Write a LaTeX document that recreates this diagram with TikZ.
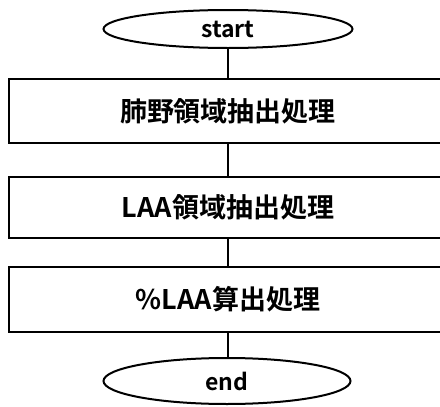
\documentclass[tikz,border=0pt]{standalone}
\usepackage{fontspec}
\newfontfamily\jp{Noto Sans CJK JP}[BoldFont={Noto Sans CJK JP Bold}]
\usetikzlibrary{shapes.geometric}
\begin{document}
\begin{tikzpicture}[x=1pt,y=1pt,
  line width=2pt,
  term/.style={draw,ellipse,inner sep=0pt,minimum width=249pt,font=\jp\bfseries\fontsize{23}{25}\selectfont},
  proc/.style={draw,rectangle,inner sep=0pt,minimum width=438pt,font=\jp\bfseries\fontsize{27}{30}\selectfont}]
\useasboundingbox (0,0) rectangle (440,-407);
\node[term,minimum height=38pt] (s) at (228,-29) {start};
\node[proc,minimum height=64pt] (b1) at (228,-111) {肺野領域抽出処理};
\node[proc,minimum height=61pt] (b2) at (228,-207.5) {LAA領域抽出処理};
\node[proc,minimum height=65pt] (b3) at (228,-299.5) {\%LAA算出処理};
\node[term,minimum width=247pt,minimum height=46pt] (e) at (227,-381) {end};
\draw (s) -- (b1);
\draw (b1) -- (b2);
\draw (b2) -- (b3);
\draw (b3.south) -- (b3.south |- e.north);
\end{tikzpicture}
\end{document}
